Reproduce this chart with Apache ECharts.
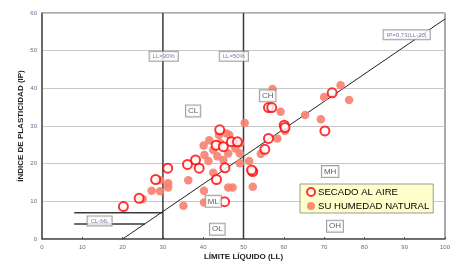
<!DOCTYPE html>
<html>
<head>
<meta charset="utf-8">
<script src="https://cdn.jsdelivr.net/npm/echarts@6/dist/echarts.min.js"></script>
<style>
  html, body { margin: 0; padding: 0; background: #fff; }
  #chart { width: 450px; height: 261px; }
</style>
</head>
<body>
<div id="chart"></div>
<script>
// [LL, IP]
var secadoAire = [
  [20.2, 8.6], [24.1, 10.8], [28.2, 15.8], [31.2, 18.8], [36.1, 19.8],
  [38.1, 21.0], [39.0, 18.8], [43.2, 24.9], [44.1, 29.0], [45.0, 24.5],
  [45.4, 18.9], [43.3, 15.8], [45.3, 9.9], [47.0, 25.8], [48.5, 25.8],
  [52.3, 17.9], [52.0, 18.3], [55.3, 23.8], [56.2, 26.7], [56.2, 34.9],
  [57.0, 34.9], [60.1, 30.2], [60.3, 29.6], [70.2, 28.7], [72.0, 38.8]
];
var humedadNatural = [
  [25.0, 10.6], [27.2, 12.8], [29.3, 12.7], [29.3, 15.6], [31.3, 14.8],
  [31.3, 13.7], [36.3, 15.6], [35.1, 8.8], [40.3, 22.3], [40.1, 24.8],
  [41.3, 20.7], [40.2, 12.8], [40.2, 9.7], [42.5, 17.6], [42.5, 23.6],
  [43.9, 27.6], [44.2, 25.5], [46.5, 27.6], [45.8, 28.0], [47.6, 25.8],
  [46.2, 22.7], [49.1, 22.7], [49.1, 20.1], [45.0, 21.0], [46.2, 13.7],
  [47.3, 13.7], [50.3, 30.8], [51.4, 20.7], [52.3, 13.9], [54.3, 22.6],
  [57.2, 39.8], [59.2, 33.8], [58.4, 26.7], [60.3, 28.7], [65.3, 32.9],
  [69.2, 31.8], [70.0, 37.7], [74.1, 40.8], [76.2, 36.9], [41.5, 26.2],
  [49.1, 25.4], [43.5, 22.0], [48.0, 24.0]
];
// classification lines
var lineaA = [[20, 0], [100, 58.4]];
var lineaLL30 = [[30, 0], [30, 60]];
var lineaLL50 = [[50, 0], [50, 60]];
var lineaIP7 = [[8, 7], [30, 7]];
var lineaIP4 = [[8, 4], [25.5, 4]];
// zone tags [LL, IP, text]
var zonas = [
  [37.5, 34, 'CL'], [56, 38, 'CH'], [42.5, 10, 'ML'], [43.5, 2.6, 'OL'],
  [71.5, 17.9, 'MH'], [72.7, 3.4, 'OH']
];
var rotulos = [
  [30.2, 48.5, 'LL=30%'], [47.6, 48.5, 'LL=50%'], [14.3, 4.8, 'CL-ML'],
  [90.5, 54.2, 'IP=0,73(LL-20)']
];

var chart = echarts.init(document.getElementById('chart'));

var lineStyleV = { color: '#3a3a3a', width: 1.5 };
function seg(data, style) {
  return {
    type: 'line', data: data, symbol: 'none', silent: true,
    lineStyle: style, z: 1
  };
}

chart.setOption({
  animation: false,
  grid: {
    left: 42, right: 5, top: 13, bottom: 22,
    outerBoundsMode: 'none',
    show: true, borderColor: '#555', borderWidth: 1
  },
  legend: {
    orient: 'vertical',
    left: 300, top: 184,
    data: ['SECADO AL AIRE', 'SU HUMEDAD NATURAL'],
    backgroundColor: '#FFFFCC',
    borderColor: '#999', borderWidth: 1,
    padding: [3, 4, 2, 6],
    itemGap: 4,
    itemWidth: 8, itemHeight: 8,
    textStyle: { fontFamily: 'Liberation Sans', fontSize: 9.6, color: '#000', padding: [0, 0, 0, -2] }
  },
  xAxis: {
    type: 'value', min: 0, max: 100, interval: 10,
    name: 'LÍMITE LÍQUIDO (LL)',
    nameLocation: 'middle', nameGap: 14, nameMoveOverlap: false,
    nameTextStyle: { fontFamily: 'Liberation Sans', fontWeight: 'bold', fontSize: 8, color: '#222' },
    axisLine: { lineStyle: { color: '#555', width: 1.5 } },
    axisTick: { inside: true, length: 2, lineStyle: { color: '#555' } },
    axisLabel: { fontFamily: 'Liberation Sans', fontSize: 6, color: '#6a6a8a', margin: 5 },
    splitLine: { show: false }
  },
  yAxis: {
    type: 'value', min: 0, max: 60, interval: 10,
    name: 'ÍNDICE DE PLASTICIDAD (IP)',
    nameLocation: 'middle', nameGap: 17, nameMoveOverlap: false,
    nameTextStyle: { fontFamily: 'Liberation Sans', fontWeight: 'bold', fontSize: 8, color: '#222' },
    axisLine: { show: true, lineStyle: { color: '#555', width: 1.5 } },
    axisTick: { show: false },
    axisLabel: { fontFamily: 'Liberation Sans', fontSize: 6, color: '#6a6a8a', margin: 5 },
    splitLine: { lineStyle: { color: '#c8c8c8', width: 1.2 } }
  },
  series: [
    seg(lineaLL30, lineStyleV),
    seg(lineaLL50, lineStyleV),
    seg(lineaIP7, lineStyleV),
    seg(lineaIP4, lineStyleV),
    seg(lineaA, { color: '#222', width: 1 }),
    {
      name: 'SU HUMEDAD NATURAL',
      type: 'scatter',
      data: humedadNatural,
      symbol: 'circle', symbolSize: 8.5,
      itemStyle: { color: '#f7806f', opacity: 0.9 },
      z: 3
    },
    {
      name: 'SECADO AL AIRE',
      type: 'scatter',
      data: secadoAire,
      symbol: 'circle', symbolSize: 9,
      itemStyle: { color: '#fff', borderColor: '#ff0000', borderWidth: 2 },
      z: 4
    },
    {
      type: 'scatter', silent: true, symbolSize: 0, z: 5,
      data: zonas.map(function (d) { return { value: [d[0], d[1]], name: d[2] }; }),
      label: {
        show: true, position: 'inside', formatter: '{b}',
        fontFamily: 'Liberation Sans', fontSize: 8, color: '#333',
        backgroundColor: '#fff', borderColor: '#888', borderWidth: 1,
        padding: [2, 2, 1, 2]
      }
    },
    {
      type: 'scatter', silent: true, symbolSize: 0, z: 5,
      data: rotulos.map(function (d) { return { value: [d[0], d[1]], name: d[2] }; }),
      label: {
        show: true, position: 'inside', formatter: '{b}',
        fontFamily: 'Liberation Sans', fontSize: 6, color: '#6b4a8e',
        backgroundColor: '#fff', borderColor: '#888', borderWidth: 1,
        padding: [2, 3, 1, 3]
      }
    }
  ]
});
</script>
</body>
</html>
